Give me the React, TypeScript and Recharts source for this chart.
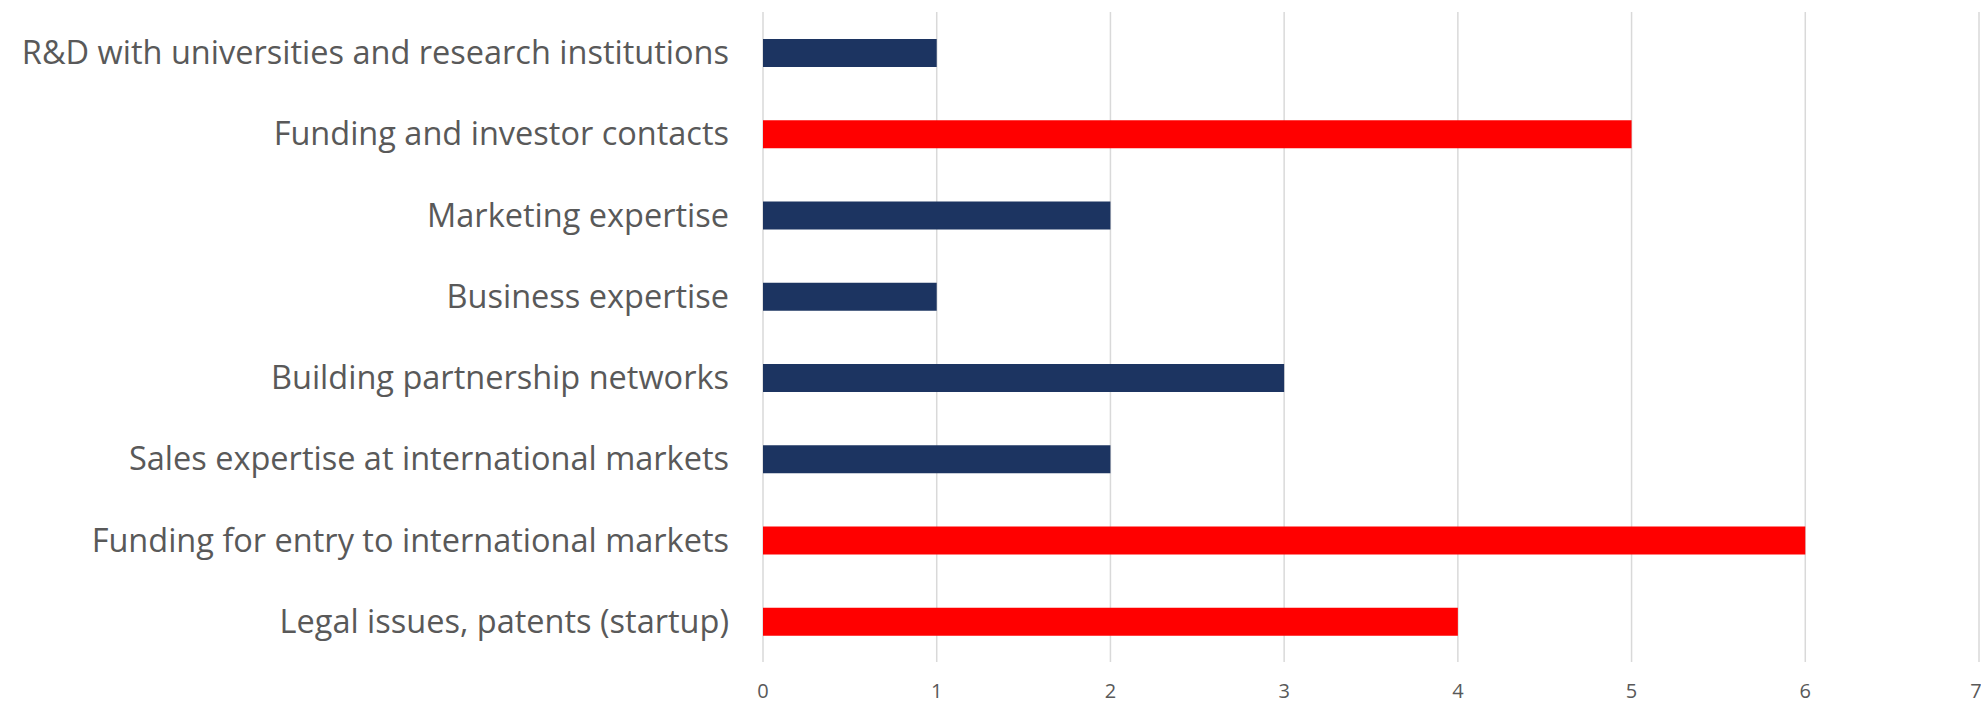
import { BarChart, Bar, XAxis, YAxis, CartesianGrid, Cell } from "recharts";

// categories top to bottom
const categories = [
    "R&D with universities and research institutions",
    "Funding and investor contacts",
    "Marketing expertise",
    "Business expertise",
    "Building partnership networks",
    "Sales expertise at international markets",
    "Funding for entry to international markets",
    "Legal issues, patents (startup)",
];

const counts = [1, 5, 2, 1, 3, 2, 6, 4];

// the ones drawn in red
const highlighted = [
    "Funding and investor contacts",
    "Funding for entry to international markets",
    "Legal issues, patents (startup)",
];

const xTicks = [0, 1, 2, 3, 4, 5, 6, 7];

const data = categories.map((name, i) => ({ name, value: counts[i] }));

const NAVY = "#1c3461";
const RED = "#ff0000";
const FONT = "'Open Sans', Lato, sans-serif";

export default function App() {
    return (
        <div style={{ position: "absolute", left: 0, top: 0 }}>
            <BarChart
                width={1981}
                height={703}
                data={data}
                layout="vertical"
                margin={{ top: 12, right: 2, bottom: 0, left: 0 }}
            >
                <CartesianGrid horizontal={false} stroke="#d9d9d9" strokeWidth={1.5} />
                <XAxis
                    type="number"
                    domain={[0, 7]}
                    ticks={xTicks}
                    axisLine={false}
                    tickLine={false}
                    tickSize={0}
                    tickMargin={22}
                    height={41}
                    tick={{ fill: "#595959", fontSize: 20, fontFamily: FONT }}
                />
                <YAxis
                    type="category"
                    dataKey="name"
                    width={763}
                    axisLine={false}
                    tickLine={false}
                    tickSize={0}
                    tickMargin={34}
                    interval={0}
                    tick={{ fill: "#595959", fontSize: 32.5, fontFamily: FONT }}
                />
                <Bar dataKey="value" barSize={28} isAnimationActive={false}>
                    {data.map((d) => (
                        <Cell key={d.name} fill={highlighted.includes(d.name) ? RED : NAVY} />
                    ))}
                </Bar>
            </BarChart>
        </div>
    );
}
